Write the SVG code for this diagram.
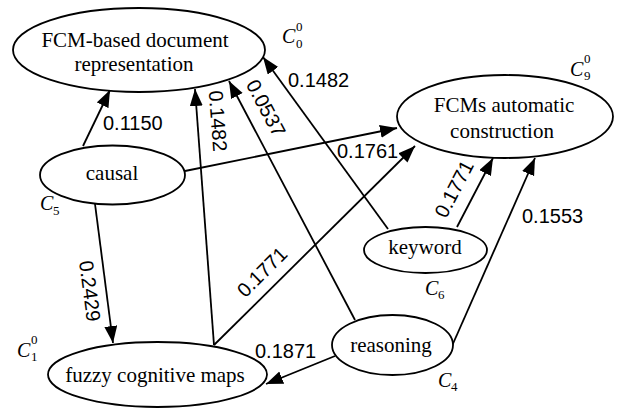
<svg xmlns="http://www.w3.org/2000/svg" width="619" height="408" viewBox="0 0 619 408">
<defs>
<marker id="arr" markerUnits="userSpaceOnUse" markerWidth="18" markerHeight="14" refX="17" refY="6.5" orient="auto">
<path d="M0,0 L17,6.5 L0,13 z" fill="#000"/>
</marker>
</defs>
<style>
.node ellipse{fill:#fff;stroke:#000;stroke-width:1.8}
.nt{font-family:"Liberation Serif","Times New Roman",serif;font-size:21px;fill:#000;text-anchor:middle}
.edges line{stroke:#000;stroke-width:1.8;marker-end:url(#arr)}
.lbl{font-family:"Liberation Sans",Arial,sans-serif;font-size:20px;fill:#000}
.rl{font-family:"Liberation Sans",Arial,sans-serif;font-size:20px;fill:#000;text-anchor:middle}
.ci{font-family:"Liberation Serif","Times New Roman",serif;font-style:italic;font-size:20px;fill:#000}
.cs{font-family:"Liberation Serif","Times New Roman",serif;font-size:13px;fill:#000}
</style>
<rect width="619" height="408" fill="#fff"/>
<g class="edges" id="connectors">
<line x1="83" y1="146" x2="110" y2="90"/>
<line x1="214" y1="345" x2="195" y2="89"/>
<line x1="355" y1="320" x2="229" y2="81"/>
<line x1="388" y1="229" x2="263" y2="57"/>
<line x1="457" y1="227" x2="493" y2="158"/>
<line x1="452" y1="346" x2="535" y2="158"/>
<line x1="185" y1="171" x2="397" y2="128"/>
<line x1="214" y1="345" x2="415" y2="146"/>
<line x1="95" y1="204" x2="113" y2="343"/>
<line x1="335" y1="356" x2="266" y2="384"/>
</g>
<g id="edge-labels">
<text class="lbl" x="103" y="130">0.1150</text>
<text class="lbl" x="288" y="87">0.1482</text>
<text class="lbl" x="337" y="158">0.1761</text>
<text class="lbl" x="522" y="223">0.1553</text>
<text class="lbl" x="255" y="358">0.1871</text>
<text class="rl" transform="translate(218,121) rotate(85.8)" y="7">0.1482</text>
<text class="rl" transform="translate(266,108) rotate(62.2)" y="7">0.0537</text>
<text class="rl" transform="translate(454,189) rotate(-62.4)" y="7">0.1771</text>
<text class="rl" transform="translate(262,272) rotate(-44.7)" y="7">0.1771</text>
<text class="rl" transform="translate(90,291) rotate(82.6)" y="7">0.2429</text>
</g>
<g class="node" id="n-fcmdoc">
<ellipse cx="139" cy="50" rx="126" ry="42"/>
<text class="nt" x="135" y="47">FCM-based document</text>
<text class="nt" x="134" y="71">representation</text>
<text class="ci" x="282" y="43">C</text><text class="cs" x="296" y="31">0</text><text class="cs" x="296" y="48">0</text>
</g>
<g class="node" id="n-fcmauto">
<ellipse cx="505" cy="116.5" rx="108" ry="41.5"/>
<text class="nt" x="504" y="112">FCMs automatic</text>
<text class="nt" x="502" y="138">construction</text>
<text class="ci" x="570" y="76">C</text><text class="cs" x="584" y="63">0</text><text class="cs" x="584" y="80">9</text>
</g>
<g class="node" id="n-causal">
<ellipse cx="112.5" cy="175" rx="72.5" ry="29.5"/>
<text class="nt" x="112" y="180">causal</text>
<text class="ci" x="40" y="210">C</text><text class="cs" x="53" y="215">5</text>
</g>
<g class="node" id="n-keyword">
<ellipse cx="425.5" cy="250" rx="61.5" ry="23"/>
<text class="nt" x="425" y="254">keyword</text>
<text class="ci" x="425" y="295">C</text><text class="cs" x="438" y="299">6</text>
</g>
<g class="node" id="n-reasoning">
<ellipse cx="392.5" cy="345" rx="60.5" ry="30"/>
<text class="nt" x="391" y="352">reasoning</text>
<text class="ci" x="438" y="387">C</text><text class="cs" x="451" y="391">4</text>
</g>
<g class="node" id="n-fuzzy">
<ellipse cx="157.5" cy="374.5" rx="109.5" ry="32.5"/>
<text class="nt" x="155" y="382">fuzzy cognitive maps</text>
<text class="ci" x="17" y="357">C</text><text class="cs" x="31" y="344">0</text><text class="cs" x="31" y="361">1</text>
</g>
</svg>
